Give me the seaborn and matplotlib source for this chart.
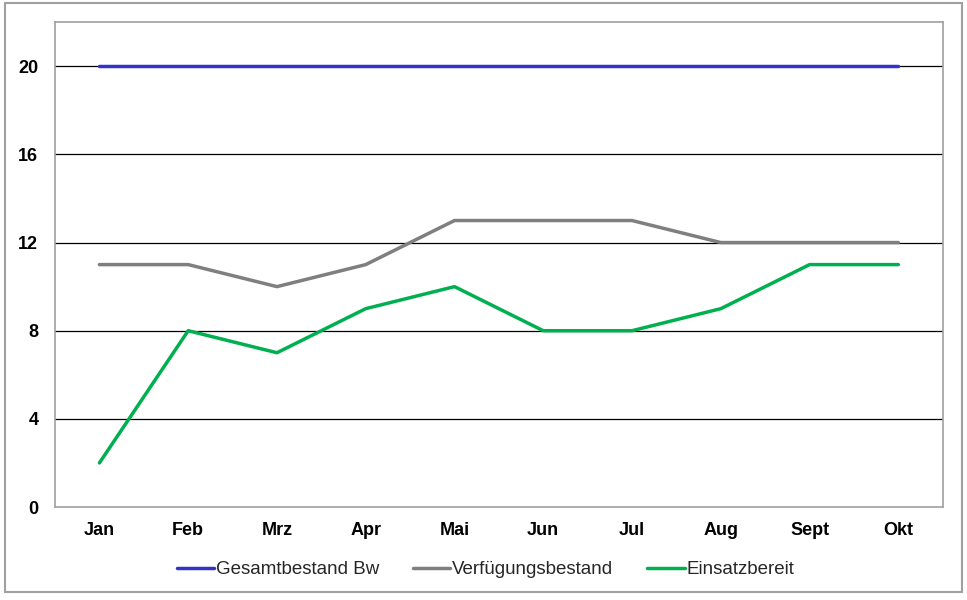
import matplotlib
matplotlib.use("Agg")
import matplotlib.pyplot as plt
import seaborn as sns
import pandas as pd
from matplotlib.patches import Rectangle

months = ["Jan", "Feb", "Mrz", "Apr", "Mai", "Jun", "Jul", "Aug", "Sept", "Okt"]
gesamtbestand = [20, 20, 20, 20, 20, 20, 20, 20, 20, 20]
verfuegungsbestand = [11, 11, 10, 11, 13, 13, 13, 12, 12, 12]
einsatzbereit = [2, 8, 7, 9, 10, 8, 8, 9, 11, 11]
series_names = ["Gesamtbestand Bw", "Verfügungsbestand", "Einsatzbereit"]
yticks = [0, 4, 8, 12, 16, 20]

rows = []
for name, vals in zip(series_names, [gesamtbestand, verfuegungsbestand, einsatzbereit]):
    for i, (m, v) in enumerate(zip(months, vals)):
        rows.append({"Monat": m, "idx": i, "Wert": v, "Serie": name})
df = pd.DataFrame(rows)

sns.set_theme(style="white")
plt.rcParams["font.family"] = ["Liberation Sans", "DejaVu Sans"]

fig = plt.figure(figsize=(9.67, 6.0), dpi=100)
ax = fig.add_axes([0.0569, 0.155, 0.918, 0.808])

for y in yticks[1:]:
    ax.axhline(y, color="#000000", lw=0.9, zorder=1)

palette = {"Gesamtbestand Bw": "#3333CC", "Verfügungsbestand": "#7F7F7F", "Einsatzbereit": "#00B050"}
sns.lineplot(data=df, x="idx", y="Wert", hue="Serie", hue_order=series_names,
             palette=palette, lw=2.5, ax=ax, legend=True, zorder=3)

ax.set_xlim(-0.5, len(months) - 0.5)
ax.set_ylim(0, 22)
ax.set_xticks(range(len(months)))
ax.set_xticklabels(months, fontsize=13, fontweight="bold")
ax.set_yticks(yticks)
ax.set_yticklabels([str(t) for t in yticks], fontsize=13, fontweight="bold")
ax.tick_params(axis="x", length=0, pad=11, colors="black")
ax.tick_params(axis="y", length=0, pad=12, colors="black")
ax.set_xlabel("")
ax.set_ylabel("")
for s in ax.spines.values():
    s.set_color("#A0A0A0")
    s.set_linewidth(1.2)

ax.legend(loc="upper center", bbox_to_anchor=(0.485, -0.077), ncol=3, frameon=False,
          fontsize=13.5, handlelength=2.0, handletextpad=0.1, columnspacing=1.8)

fig.patches.append(Rectangle((5 / 967, 8 / 600), 957 / 967, 589 / 600, transform=fig.transFigure,
                             fill=False, edgecolor="#A0A0A0", lw=1.5))

fig.savefig("out.png", dpi=100)
